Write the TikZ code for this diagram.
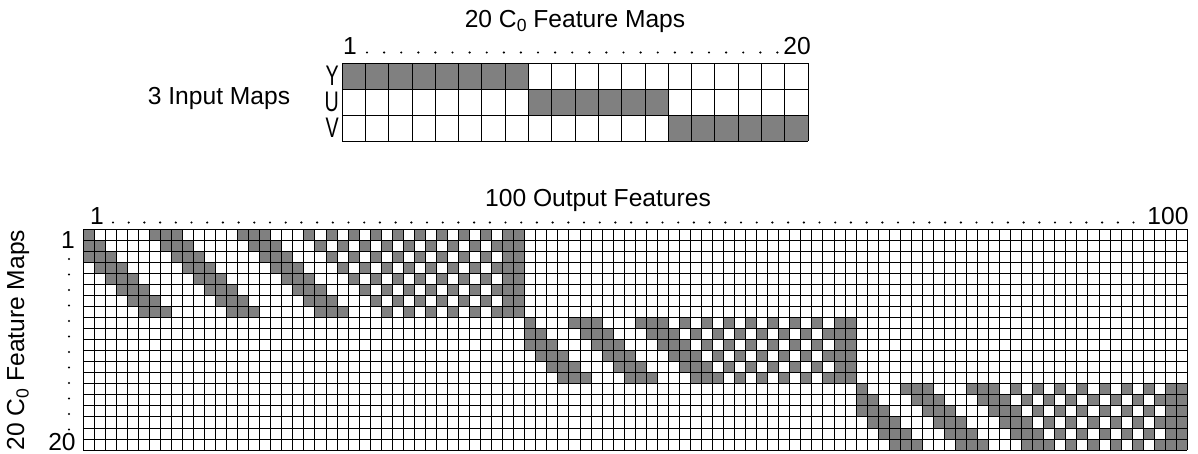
\documentclass[tikz,border=0pt]{standalone}
\usepackage{fontspec}
\setmainfont{Liberation Sans}
\definecolor{cellgray}{HTML}{808080}
\newcommand{\lowsub}[1]{\raisebox{-0.35ex}{\fontsize{12.5}{12.5}\selectfont #1}}
\newcommand{\narrow}[1]{\scalebox{0.8}[1.15]{#1}}

\begin{document}
\begin{tikzpicture}[
  x=0.025cm, y=-0.025cm,
  label/.style={font=\fontsize{17.5}{21}\selectfont, inner sep=0pt},
  chan/.style={label, anchor=east},
  on/.style={fill=cellgray},
  rule/.style={line width=0.6pt, draw=black},
  leader/.style={fill=black}
]
\useasboundingbox (0,0) rectangle (1198,454);

% input table
\node[label] (intitle) at (575,21) {20 C\lowsub{0} Feature Maps};
\node[label] (inone) at (350,46) {1};
\foreach \i in {0,...,24}
  \fill[leader] (367+\i*17.1,52.5) circle (1.2);
\node[label] (intwenty) at (797,46) {20};
\node[label] (inmaps) at (219,98) {3 Input Maps};
\node[chan] (ych) at (339,76) {\narrow{Y}};
\node[chan] (uch) at (339,102) {\narrow{U}};
\node[chan] (vch) at (339,128) {\narrow{V}};

\begin{scope}[shift={(342,63)}, x=0.5825cm, y=-0.65cm]
  \fill[on] (0,0) rectangle (8,1);
  \fill[on] (8,1) rectangle (14,2);
  \fill[on] (14,2) rectangle (20,3);
  \foreach \c in {0,...,20} \draw[rule] (\c,0) -- (\c,3);
  \foreach \r in {0,...,3} \draw[rule] (0,\r) -- (20,\r);
\end{scope}

% output table
\node[label] (outtitle) at (598,200) {100 Output Features};
\node[label] (outone) at (97,216) {1};
\foreach \i in {0,...,65}
  \fill[leader] (113+\i*15.7,222.5) circle (1.2);
\node[label] (outhundred) at (1168,216) {100};
\node[label, rotate=90] (sidetitle) at (18,340) {20 C\lowsub{0} Feature Maps};
\node[label] (sideone) at (68,240) {1};
\foreach \i in {0,...,11}
  \fill[leader] (69,259+\i*15.5) circle (1.2);
\node[label] (sidetwenty) at (62,442) {20};

\begin{scope}[shift={(83,229)}, x=0.276cm, y=-0.27625cm]
  % two diagonal groups per input, three neighbouring maps each
  \foreach \R/\n/\C in {0/8/0, 8/6/40, 14/6/70} {
    \pgfmathtruncatemacro{\nn}{\n-1}
    \foreach \g in {0,1}
      \foreach \j in {0,...,\nn}
        \foreach \k in {0,1,2} {
          \pgfmathtruncatemacro{\rr}{\R+mod(\j+\k,\n)}
          \fill[on] (\C+\g*\n+\j,\rr) rectangle ++(1,1);
        }
  }
  % third band, then every second map, then two full columns
  \foreach \R/\n/\C/\w/\gp in {0/8/16/22/4, 8/6/52/16/2, 14/6/82/16/2} {
    \pgfmathtruncatemacro{\ww}{\w-1}
    \pgfmathtruncatemacro{\nn}{\n-1}
    \foreach \t in {0,...,\ww}
      \foreach \r in {0,...,\nn} {
        \pgfmathtruncatemacro{\d}{\t-\r}
        \pgfmathtruncatemacro{\hit}{((\d>=-2)&&(\d<=0))||((\d>=\gp)&&(mod(\d,2)==0))}
        \ifnum\hit=1 \fill[on] (\C+\t,\R+\r) rectangle ++(1,1); \fi
      }
    \fill[on] (\C+\w,\R) rectangle ++(2,\n);
  }
  \foreach \c in {0,...,100} \draw[rule] (\c,0) -- (\c,20);
  \foreach \r in {0,...,20} \draw[rule] (0,\r) -- (100,\r);
\end{scope}

\end{tikzpicture}
\end{document}
